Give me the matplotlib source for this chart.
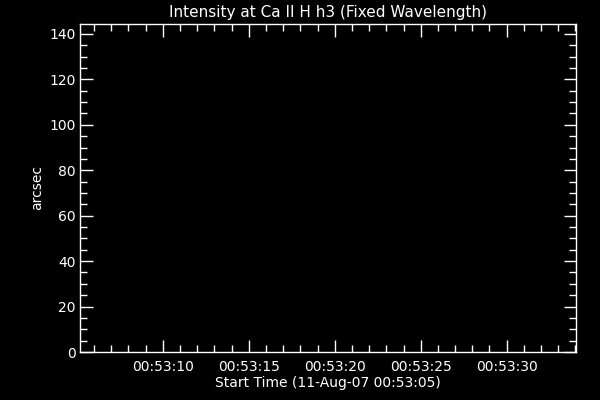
import matplotlib
matplotlib.use('Agg')
import matplotlib.pyplot as plt
from matplotlib.ticker import MultipleLocator, FuncFormatter

# empty intensity plot: only the axis ranges are known
start_label = '11-Aug-07 00:53:05'
t_range = [0.19, 29.03]      # seconds after 00:53:05
y_range = [0, 144.4]         # arcsec
title = 'Intensity at Ca II H h3 (Fixed Wavelength)'

fig = plt.figure(figsize=(6, 4), dpi=100, facecolor='black')
ax = fig.add_axes([80/600, 48/400, 496/600, 328/400], facecolor='black')
ax.set_xlim(t_range)
ax.set_ylim(y_range)

for s in ax.spines.values():
    s.set_color('white')
    s.set_linewidth(1)

ax.xaxis.set_major_locator(MultipleLocator(5))
ax.xaxis.set_minor_locator(MultipleLocator(1))
ax.yaxis.set_major_locator(MultipleLocator(20))
ax.yaxis.set_minor_locator(MultipleLocator(5))
ax.xaxis.set_major_formatter(FuncFormatter(lambda v, p: '00:53:%02d' % (5 + round(v))))

ax.tick_params(which='both', direction='in', colors='white', top=True, right=True,
               labelsize=10, width=1)
ax.tick_params(which='major', length=9)
ax.tick_params(which='minor', length=5)
ax.tick_params(axis='x', which='major', pad=6)
ax.tick_params(axis='y', which='major', pad=3)

ax.set_title(title, color='white', fontsize=11, pad=5)
ax.set_xlabel('Start Time (%s)' % start_label, color='white', fontsize=10, labelpad=1)
ax.set_ylabel('arcsec', color='white', fontsize=10, labelpad=4)

fig.savefig('out.png', facecolor='black')
